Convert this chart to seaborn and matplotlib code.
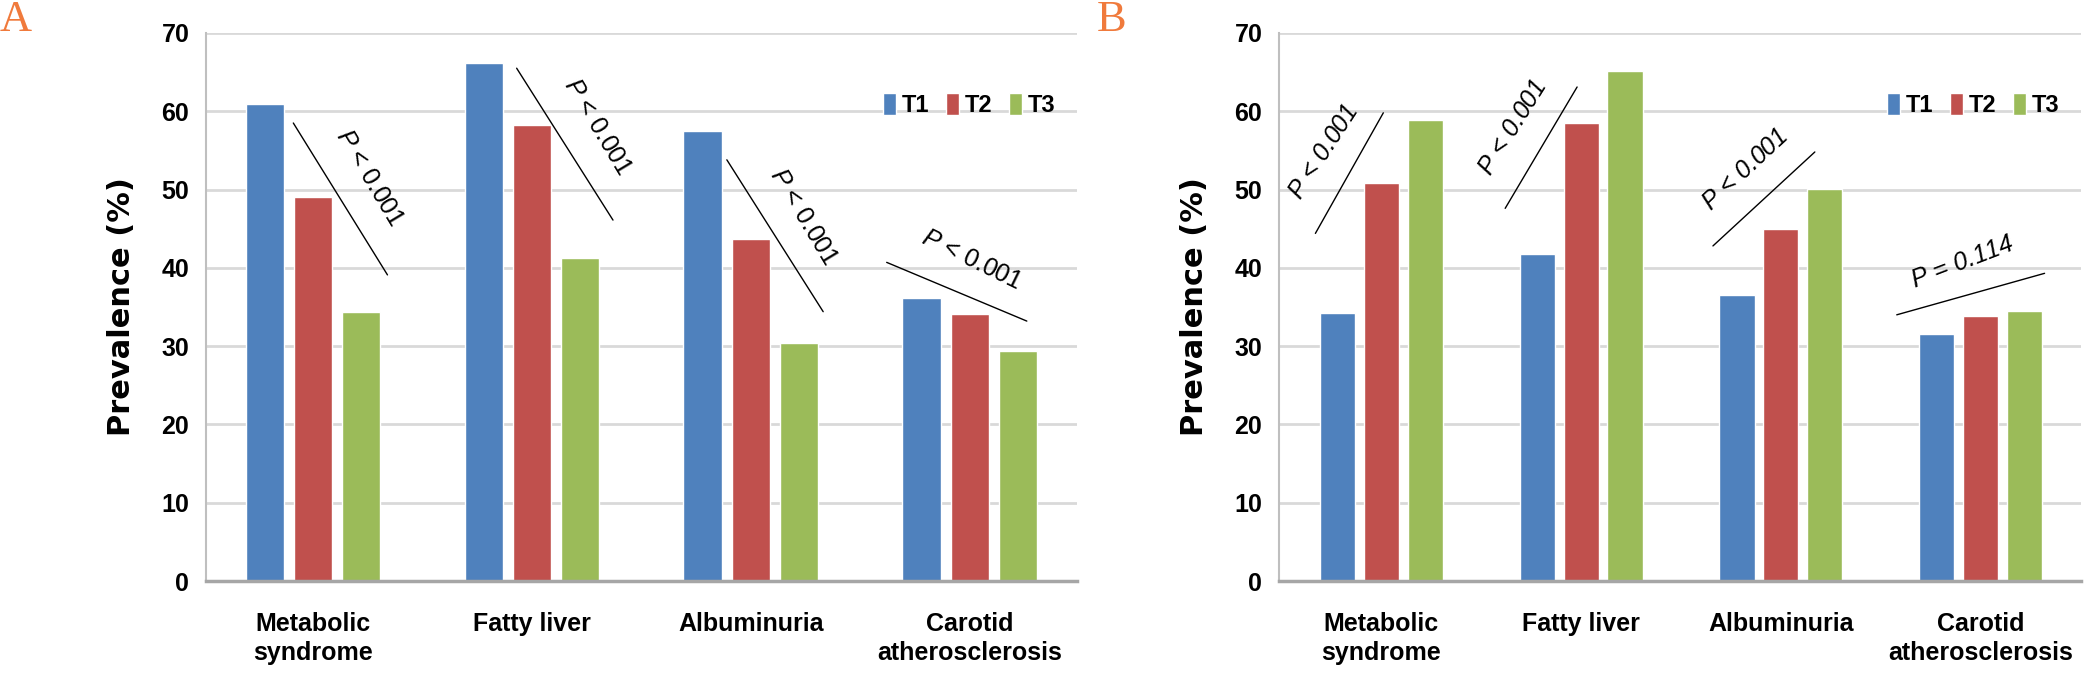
import matplotlib
matplotlib.use("Agg")
import matplotlib.pyplot as plt
from matplotlib.patches import Patch
import seaborn as sns
import pandas as pd
from matplotlib import font_manager as fm

categories = ["Metabolic\nsyndrome", "Fatty liver", "Albuminuria", "Carotid\natherosclerosis"]
groups = ["T1", "T2", "T3"]
values_a = {"T1": [60.9, 66.2, 57.5, 36.2],
            "T2": [49.1, 58.3, 43.7, 34.1],
            "T3": [34.3, 41.3, 30.4, 29.4]}
values_b = {"T1": [34.2, 41.8, 36.5, 31.6],
            "T2": [50.8, 58.5, 44.9, 33.8],
            "T3": [58.9, 65.2, 50.1, 34.5]}
yticks = [0, 10, 20, 30, 40, 50, 60, 70]
pvals_a = ["< 0.001", "< 0.001", "< 0.001", "< 0.001"]
pvals_b = ["< 0.001", "< 0.001", "< 0.001", "= 0.114"]

colors = ["#4F81BD", "#C0504D", "#9BBB59"]

sns.set_theme(style="white")
names = {f.name for f in fm.fontManager.ttflist}
narrow = "Liberation Sans Narrow" if "Liberation Sans Narrow" in names else "Liberation Sans"
plt.rcParams["font.family"] = [narrow, "DejaVu Sans"]
plt.rcParams["mathtext.fontset"] = "custom"
plt.rcParams["mathtext.it"] = narrow + ":italic"
plt.rcParams["mathtext.rm"] = narrow
plt.rcParams["text.color"] = "black"
plt.rcParams["xtick.color"] = "black"
plt.rcParams["ytick.color"] = "black"
plt.rcParams["axes.labelcolor"] = "black"


def long_df(vals):
    rows = []
    for g in groups:
        for c, v in zip(categories, vals[g]):
            rows.append({"cat": c, "grp": g, "val": v})
    return pd.DataFrame(rows)


fig = plt.figure(figsize=(20.85, 6.73), dpi=100)
axA = fig.add_axes([0.0988, 0.1367, 0.4177, 0.8143])
axB = fig.add_axes([0.6134, 0.1367, 0.3847, 0.8143])

for ax, vals in [(axA, values_a), (axB, values_b)]:
    df = long_df(vals)
    sns.barplot(data=df, x="cat", y="val", hue="grp", palette=colors, ax=ax,
                width=0.66, gap=0.2, legend=False, saturation=1)
    ax.set_ylim(0, 70)
    ax.set_yticks(yticks)
    ax.set_yticklabels([str(t) for t in yticks], fontsize=18, fontweight="bold")
    ax.set_xticklabels(categories, fontsize=18, fontweight="bold", linespacing=1.3)
    ax.tick_params(axis="both", length=0, pad=12)
    ax.tick_params(axis="x", pad=22)
    ax.set_xlabel("")
    ax.set_ylabel("Prevalence (%)", fontsize=22, fontweight="bold",
                  family="DejaVu Sans", labelpad=18)
    ax.yaxis.grid(True, color="#D9D9D9", linewidth=2)
    ax.set_axisbelow(True)
    for s in ["top", "right"]:
        ax.spines[s].set_visible(False)
    ax.spines["left"].set_color("#BFBFBF")
    ax.spines["left"].set_linewidth(1.5)
    ax.spines["bottom"].set_color("#A6A6A6")
    ax.spines["bottom"].set_linewidth(2.5)
    handles = [Patch(facecolor=c, label=g) for c, g in zip(colors, groups)]
    ax.legend(handles=handles, loc="upper right", bbox_to_anchor=(1.0, 0.93),
              ncol=3, frameon=False, handlelength=0.55, handleheight=1.1,
              handletextpad=0.25, columnspacing=0.7,
              prop={"family": narrow, "weight": "bold", "size": 17})

# annotations panel A: (x0, y0, x1, y1, tx, ty, rot)
ann_a = [(-0.09, 58.5, 0.34, 39.1, 0.26, 51.5, -59),
         (0.93, 65.5, 1.37, 46.1, 1.30, 58.0, -59),
         (1.89, 53.8, 2.33, 34.4, 2.24, 46.5, -59),
         (2.62, 40.7, 3.26, 33.2, 3.01, 41.0, -26)]
for (x0, y0, x1, y1, tx, ty, rot), p in zip(ann_a, pvals_a):
    axA.plot([x0, x1], [y0, y1], color="black", linewidth=1)
    axA.text(tx, ty, "$P$ " + p, rotation=rot, ha="center", va="center",
             fontsize=18, rotation_mode="anchor")

ann_b = [(-0.33, 44.4, 0.01, 59.8, -0.29, 54.8, 57),
         (0.62, 47.6, 0.98, 63.1, 0.66, 57.9, 58),
         (1.66, 42.8, 2.17, 54.8, 1.82, 52.5, 43),
         (2.58, 34.0, 3.32, 39.3, 2.91, 40.7, 21)]
for (x0, y0, x1, y1, tx, ty, rot), p in zip(ann_b, pvals_b):
    axB.plot([x0, x1], [y0, y1], color="black", linewidth=1)
    axB.text(tx, ty, "$P$ " + p, rotation=rot, ha="center", va="center",
             fontsize=18, style="italic", rotation_mode="anchor")

fig.text(0.0, 1.0, "A", color="#F07A3C", fontsize=32, family="Liberation Serif",
         ha="left", va="top")
fig.text(0.526, 1.0, "B", color="#F07A3C", fontsize=32, family="Liberation Serif",
         ha="left", va="top")

fig.savefig("out.png", dpi=100)
